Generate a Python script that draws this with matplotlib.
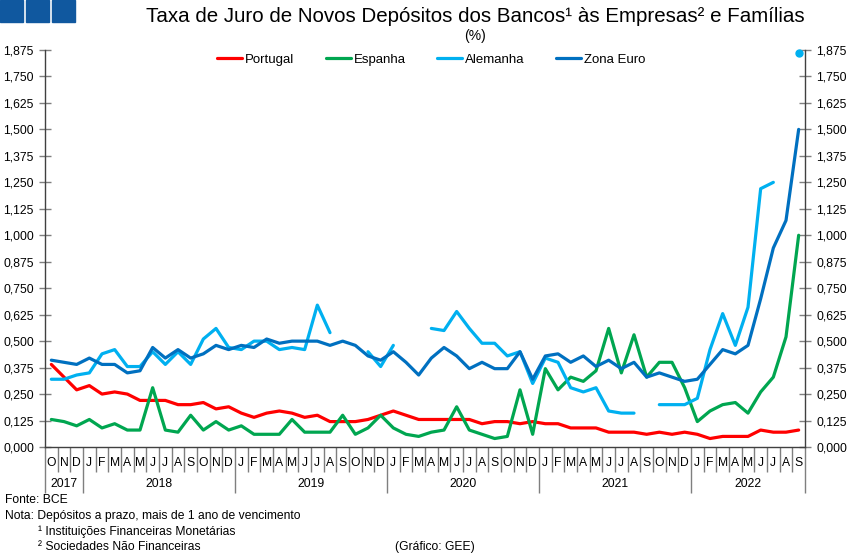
import numpy as np
import matplotlib
matplotlib.use('Agg')
import matplotlib.pyplot as plt
from matplotlib.patches import Rectangle

plt.rcParams['font.family'] = ['Liberation Sans', 'DejaVu Sans']

nan = np.nan

# Out 2017 .. Set 2022 (60 meses)
months = ['O', 'N', 'D'] + ['J', 'F', 'M', 'A', 'M', 'J', 'J', 'A', 'S', 'O', 'N', 'D'] * 4 + \
         ['J', 'F', 'M', 'A', 'M', 'J', 'J', 'A', 'S']
years = ['2017', '2018', '2019', '2020', '2021', '2022']
year_len = [3, 12, 12, 12, 12, 9]

portugal = [0.39, 0.33, 0.27, 0.29, 0.25, 0.26, 0.25, 0.22, 0.22, 0.22,
            0.20, 0.20, 0.21, 0.18, 0.19, 0.16, 0.14, 0.16, 0.17, 0.16,
            0.14, 0.15, 0.12, 0.12, 0.12, 0.13, 0.15, 0.17, 0.15, 0.13,
            0.13, 0.13, 0.13, 0.13, 0.11, 0.12, 0.12, 0.11, 0.12, 0.11,
            0.11, 0.09, 0.09, 0.09, 0.07, 0.07, 0.07, 0.06, 0.07, 0.06,
            0.07, 0.06, 0.04, 0.05, 0.05, 0.05, 0.08, 0.07, 0.07, 0.08]
espanha = [0.13, 0.12, 0.10, 0.13, 0.09, 0.11, 0.08, 0.08, 0.28, 0.08,
           0.07, 0.15, 0.08, 0.12, 0.08, 0.10, 0.06, 0.06, 0.06, 0.13,
           0.07, 0.07, 0.07, 0.15, 0.06, 0.09, 0.15, 0.09, 0.06, 0.05,
           0.07, 0.08, 0.19, 0.08, 0.06, 0.04, 0.05, 0.27, 0.06, 0.37,
           0.27, 0.33, 0.31, 0.36, 0.56, 0.35, 0.53, 0.33, 0.40, 0.40,
           0.28, 0.12, 0.17, 0.20, 0.21, 0.16, 0.26, 0.33, 0.52, 1.00]
alemanha = [0.32, 0.32, 0.34, 0.35, 0.44, 0.46, 0.38, 0.38, 0.45, 0.39,
            0.45, 0.39, 0.51, 0.56, 0.47, 0.46, 0.50, 0.50, 0.46, 0.47,
            0.46, 0.67, 0.54, nan, nan, 0.45, 0.38, 0.48, nan, nan,
            0.56, 0.55, 0.64, 0.56, 0.49, 0.49, 0.43, 0.45, 0.30, 0.42,
            0.40, 0.28, 0.26, 0.28, 0.17, 0.16, 0.16, nan, 0.20, 0.20,
            0.20, 0.23, 0.46, 0.63, 0.48, 0.66, 1.22, 1.25, nan, 1.86]
zona_euro = [0.41, 0.40, 0.39, 0.42, 0.39, 0.39, 0.35, 0.36, 0.47, 0.42,
             0.46, 0.42, 0.44, 0.48, 0.46, 0.48, 0.47, 0.51, 0.49, 0.50,
             0.50, 0.50, 0.48, 0.50, 0.48, 0.43, 0.41, 0.45, 0.40, 0.34,
             0.42, 0.47, 0.43, 0.37, 0.40, 0.37, 0.37, 0.45, 0.32, 0.43,
             0.44, 0.40, 0.43, 0.38, 0.41, 0.37, 0.40, 0.33, 0.35, 0.33,
             0.31, 0.32, 0.39, 0.46, 0.44, 0.48, 0.70, 0.94, 1.07, 1.50]

series = [('Portugal', portugal, '#ff0000'),
          ('Espanha', espanha, '#00a650'),
          ('Alemanha', alemanha, '#00b0f0'),
          ('Zona Euro', zona_euro, '#0070c0')]

fig = plt.figure(figsize=(8.51, 5.56), dpi=100)
ax = fig.add_axes([45 / 851, 109 / 556, 760 / 851, 397 / 556])

x = np.arange(len(months))
for name, vals, col in series:
    v = np.array(vals, dtype=float)
    ax.plot(x, v, color=col, lw=2.3, label=name, solid_capstyle='round')
    # pontos isolados (vizinhos em falta) aparecem como marcador
    ok = ~np.isnan(v)
    prev = np.r_[False, ok[:-1]]
    nxt = np.r_[ok[1:], False]
    iso = ok & ~prev & ~nxt
    if iso.any():
        ax.plot(x[iso], v[iso], 'o', color=col, ms=5, clip_on=False)

ax.set_xlim(-0.5, len(months) - 0.5)
ax.set_ylim(0, 1.875)

# eixo y dos dois lados
yt = np.arange(0, 1.876, 0.125)
ax.set_yticks(yt)
ax.set_yticklabels([f'{t:.3f}'.replace('.', ',') for t in yt])
ax.tick_params(axis='y', which='both', direction='inout', length=8, width=1,
               color='#7f7f7f', labelsize=8.7, left=True, right=True,
               labelleft=True, labelright=True, pad=4)

ax.spines['top'].set_visible(False)
for s in ['left', 'right', 'bottom']:
    ax.spines[s].set_color('#404040')
    ax.spines[s].set_linewidth(1)

# separadores de meses e anos
bounds = np.cumsum([0] + year_len) - 0.5
all_b = np.arange(len(months) + 1) - 0.5
ax.set_xticks(bounds)
ax.set_xticks([b for b in all_b if b not in bounds], minor=True)
ax.set_xticklabels([])
ax.tick_params(axis='x', which='major', direction='out', length=33, width=1,
               color='#7f7f7f')
ax.tick_params(axis='x', which='minor', direction='out', length=18, width=1,
               color='#7f7f7f')

xt = ax.get_xaxis_transform()
for i, m in enumerate(months):
    ax.text(i, -16 / 397, m, transform=xt, ha='center', va='center',
            fontsize=8.7)
for k, y in enumerate(years):
    c = (bounds[k] + bounds[k + 1]) / 2
    ax.text(c, -37 / 397, y, transform=xt, ha='center', va='center',
            fontsize=8.7)

leg = ax.legend(loc='center', bbox_to_anchor=(0.508, 0.975), ncol=4,
                frameon=False, fontsize=9.5, handlelength=1.9,
                handletextpad=0.2, columnspacing=2.4)

# cabeçalho
for k in range(3):
    fig.patches.append(Rectangle((k * 26 / 851, 1 - 22 / 556), 23 / 851, 22 / 556,
                                 transform=fig.transFigure, color='#10589f'))
fig.text(475 / 851, 1 - 17 / 556,
         'Taxa de Juro de Novos Depósitos dos Bancos¹ às Empresas² e Famílias',
         ha='center', va='center', fontsize=14.8)
fig.text(475 / 851, 1 - 36 / 556, '(%)', ha='center', va='center', fontsize=10)

# notas
fig.text(5 / 851, 1 - 500 / 556, 'Fonte: BCE', ha='left', va='center', fontsize=8.7)
fig.text(5 / 851, 1 - 516 / 556, 'Nota: Depósitos a prazo, mais de 1 ano de vencimento',
         ha='left', va='center', fontsize=8.7)
fig.text(38 / 851, 1 - 532 / 556, '¹ Instituições Financeiras Monetárias',
         ha='left', va='center', fontsize=8.7)
fig.text(38 / 851, 1 - 547 / 556, '² Sociedades Não Financeiras',
         ha='left', va='center', fontsize=8.7)
fig.text(395 / 851, 1 - 547 / 556, '(Gráfico: GEE)', ha='left', va='center',
         fontsize=8.7)

fig.savefig('out.png', dpi=100)
